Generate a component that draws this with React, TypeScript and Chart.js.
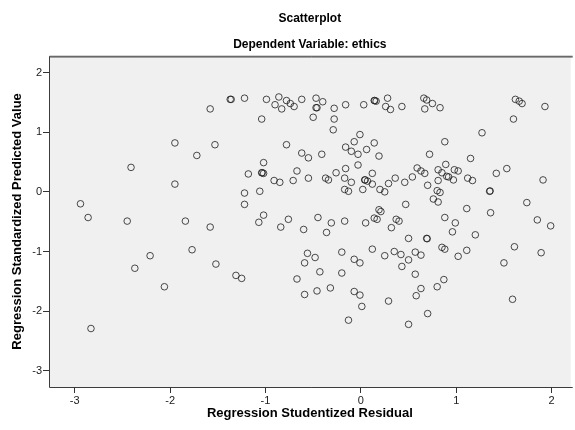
import { useEffect, useRef } from "react";
import { Chart, registerables } from "chart.js";

Chart.register(...registerables);

const chartTitle = "Scatterplot";
const chartSubtitle = "Dependent Variable: ethics";
const xAxisTitle = "Regression Studentized Residual";
const yAxisTitle = "Regression Standardized Predicted Value";

const xTickValues = [-3, -2, -1, 0, 1, 2];
const yTickValues = [-3, -2, -1, 0, 1, 2];

// Regression Studentized Residual (x)
const residuals = [
  -1.58, -1.95, -1.53, -1.72, -2.41, -1.95, -2.94, -2.86, -2.45, -1.84, -1.58, -1.77, -2.21, -1.52, -2.37, -2.06, -2.83,
  -1.37, -1.36, -1.22, -0.99, -0.86, -0.90, -0.83, -0.78, -0.74, -0.70, -0.62, -0.47, -0.40, -0.47, -0.46, -0.28, -0.16,
  0.03, 0.14, 0.145, 0.16, 0.28, 0.26, 0.31, -1.04, -0.50, -0.28, -0.29, -0.01, -0.07, 0.14, -0.78, -0.16, -0.10, -0.03,
  0.06, 0.19, -0.62, -0.55, -0.41, -1.02, -0.16, -0.03, -1.18, -1.04, -1.035, -1.02, -0.67, -0.91, -0.85, -0.71, -0.55,
  -0.37, -0.34, -0.26, -0.17, -0.10, 0.04, 0.045, 0.07, 0.12, 0.12, 0.29, 0.36, -0.17, -0.13, 0.02, 0.20, 0.25, -1.22,
  -1.06, -1.22, -1.02, -1.07, -0.76, -0.45, -0.31, -0.17, 0.05, 0.19, 0.21, 0.14, 0.17,
  -0.84, -0.60, -0.36, 0.32, -0.56, -0.48, -0.59, -0.20, -0.07, -0.01, 0.12, 0.25, 0.35, -1.31, -1.25, -0.43, -0.20,
  -0.67, -0.59, -0.46, -0.32, -0.07, -0.01, 0.01, 0.29, -0.13,
  0.37, 0.40, 0.88, 0.99, 0.96, 1.20, 1.85, 1.99, 0.50, 0.69, 0.695, 0.42, 0.50, 0.57, 0.63, 0.43, 0.85, 0.88, 1.11, 1.02,
  1.61, 1.50, 1.89, 0.57, 0.63, 0.58, 0.80, 0.87, 0.70, 0.50, 1.59,
  0.43, 0.66, 0.69, 0.75, 0.67, 0.83, 1.62, 1.66, 1.69, 1.93, 1.60, 1.27, 0.88, 0.72, 1.15, 0.89, 0.59, 0.63, 0.67, 0.81,
  0.85, 0.98, 1.02, 0.90, 0.92, 0.97, 0.81, 0.70, 0.54, 0.46, 1.12, 1.17, 1.42, 1.53, 1.91, 1.35, 1.355, 0.80, 0.83, 0.76,
  0.81, 0.47, 1.11, 1.36, 1.74,
];

// Regression Standardized Predicted Value (y)
const predicted = [
  1.39, 0.82, 0.79, 0.61, 0.41, 0.13, -0.20, -0.43, -0.49, -0.49, -0.59, -0.97, -1.07, -1.21, -1.28, -1.59, -2.29,
  1.55, 1.55, 1.57, 1.55, 1.59, 1.46, 1.39, 1.53, 1.48, 1.43, 1.55, 1.57, 1.51, 1.41, 1.41, 1.40, 1.46,
  1.46, 1.53, 1.53, 1.52, 1.57, 1.43, 1.38, 1.22, 1.25, 1.22, 1.04, 0.96, 0.84, 0.82, 0.79, 0.75, 0.68, 0.63,
  0.71, 0.60, 0.65, 0.57, 0.63, 0.49, 0.39, 0.45, 0.30, 0.32, 0.32, 0.31, 0.35, 0.19, 0.16, 0.19, 0.23,
  0.23, 0.20, 0.32, 0.23, 0.16, 0.20, 0.20, 0.18, 0.31, 0.13, 0.14, 0.23, 0.04, 0.01, 0.04, 0.04, 0.00, -0.02,
  0.01, -0.21, -0.39, -0.51, -0.46, -0.43, -0.52, -0.49, -0.52, -0.30, -0.33, -0.44, -0.46,
  -0.59, -0.63, -0.68, -0.60, -1.03, -1.10, -1.19, -1.01, -1.13, -1.19, -0.96, -1.07, -1.00, -1.40, -1.45, -1.34, -1.36,
  -1.46, -1.72, -1.66, -1.61, -1.67, -1.73, -1.92, -1.83, -2.15,
  -0.46, -0.49, -0.43, -0.52, -0.67, -0.72, -0.47, -0.57, -0.78, -0.78, -0.785, -1.05, -1.14, -1.01, -1.06, -1.25, -0.93, -0.96, -0.98, -1.08,
  -0.92, -1.19, -1.02, -1.38, -1.62, -1.74, -1.59, -1.47, -2.04, -2.22, -1.80,
  1.43, 1.57, 1.54, 1.48, 1.39, 1.41, 1.55, 1.52, 1.48, 1.43, 1.22, 0.99, 0.84, 0.63, 0.56, 0.46, 0.40, 0.35, 0.31, 0.37,
  0.32, 0.37, 0.35, 0.26, 0.25, 0.20, 0.19, 0.11, 0.25, 0.16, 0.23, 0.19, 0.31, 0.39, 0.20, 0.01, 0.015, 0.02, -0.01, -0.12,
  -0.17, -0.21, -0.28, -0.35, -0.18,
];

const FONT = "'Liberation Sans', Arial, Helvetica, sans-serif";

const plotFrame = {
  id: "plotFrame",
  beforeDraw(chart: any) {
    const { ctx, chartArea: a } = chart;
    ctx.save();
    ctx.fillStyle = "#F0F0F0";
    ctx.fillRect(a.left, a.top, a.right - a.left, a.bottom - a.top);
    ctx.strokeStyle = "#3c3c3c";
    ctx.lineWidth = 1;
    ctx.beginPath();
    ctx.moveTo(a.right + 2, a.top + 0.5);
    ctx.lineTo(a.left + 0.5, a.top + 0.5);
    ctx.lineTo(a.left + 0.5, a.bottom + 0.5);
    ctx.lineTo(a.right + 2, a.bottom + 0.5);
    ctx.stroke();
    ctx.strokeStyle = "#8a8a8a";
    ctx.beginPath();
    ctx.moveTo(a.left + 1, a.top + 1.5);
    ctx.lineTo(a.right + 2, a.top + 1.5);
    ctx.stroke();
    ctx.restore();
  },
};

export default function App() {
  const canvasRef = useRef<HTMLCanvasElement | null>(null);

  useEffect(() => {
    const canvas = canvasRef.current;
    if (!canvas) return;
    const points = residuals.map((x, i) => ({ x, y: predicted[i] }));
    const chart = new Chart(canvas, {
      type: "scatter",
      data: {
        datasets: [
          {
            data: points,
            pointRadius: 3.3,
            pointHoverRadius: 3.3,
            pointBorderWidth: 1,
            borderColor: "rgba(30,30,30,0.8)",
            backgroundColor: "rgba(0,0,0,0)",
          },
        ],
      },
      options: {
        responsive: false,
        animation: false,
        devicePixelRatio: 1,
        layout: { padding: { left: 0, right: 0, top: 0, bottom: 0 } },
        plugins: {
          legend: { display: false },
          tooltip: { enabled: false },
          title: {
            display: true,
            text: chartTitle,
            fullSize: false,
            color: "#000",
            font: { family: FONT, size: 12, weight: "bold", lineHeight: 1.2 },
            padding: { top: 11, bottom: 6 },
          },
          subtitle: {
            display: true,
            text: chartSubtitle,
            fullSize: false,
            color: "#000",
            font: { family: FONT, size: 12, weight: "bold", lineHeight: 1.2 },
            padding: { top: 6, bottom: 4 },
          },
        },
        scales: {
          x: {
            type: "linear",
            min: -3.27,
            max: 2.2,
            afterBuildTicks: (s: any) => {
              s.ticks = xTickValues.map((v) => ({ value: v }));
            },
            afterFit: (s: any) => {
              s.height = 43;
            },
            border: { display: false },
            grid: { drawOnChartArea: false, drawTicks: true, tickLength: 6, color: "#333" },
            ticks: {
              autoSkip: false,
              maxRotation: 0,
              padding: 1,
              color: "#222",
              font: { family: FONT, size: 11 },
              callback: (v: any) => String(v),
            },
            title: {
              display: true,
              text: xAxisTitle,
              color: "#000",
              font: { family: FONT, size: 13, weight: "bold", lineHeight: 1.2 },
              padding: { top: 0, bottom: 9 },
            },
          },
          y: {
            type: "linear",
            min: -3.27,
            max: 2.28,
            afterBuildTicks: (s: any) => {
              s.ticks = yTickValues.map((v) => ({ value: v }));
            },
            afterFit: (s: any) => {
              s.width = 49;
            },
            border: { display: false },
            grid: { drawOnChartArea: false, drawTicks: true, tickLength: 6, color: "#333" },
            ticks: {
              autoSkip: false,
              padding: 1,
              color: "#222",
              font: { family: FONT, size: 11 },
              callback: (v: any) => String(v),
            },
            title: {
              display: true,
              text: yAxisTitle,
              color: "#000",
              font: { family: FONT, size: 13, weight: "bold", lineHeight: 1.2 },
              padding: { top: 10, bottom: 0 },
            },
          },
        },
      },
      plugins: [plotFrame],
    } as any);
    return () => chart.destroy();
  }, []);

  return (
    <div style={{ position: "fixed", left: 0, top: 0, width: 575, height: 430, background: "#fff" }}>
      <canvas ref={canvasRef} width={575} height={430} style={{ display: "block" }} />
    </div>
  );
}
